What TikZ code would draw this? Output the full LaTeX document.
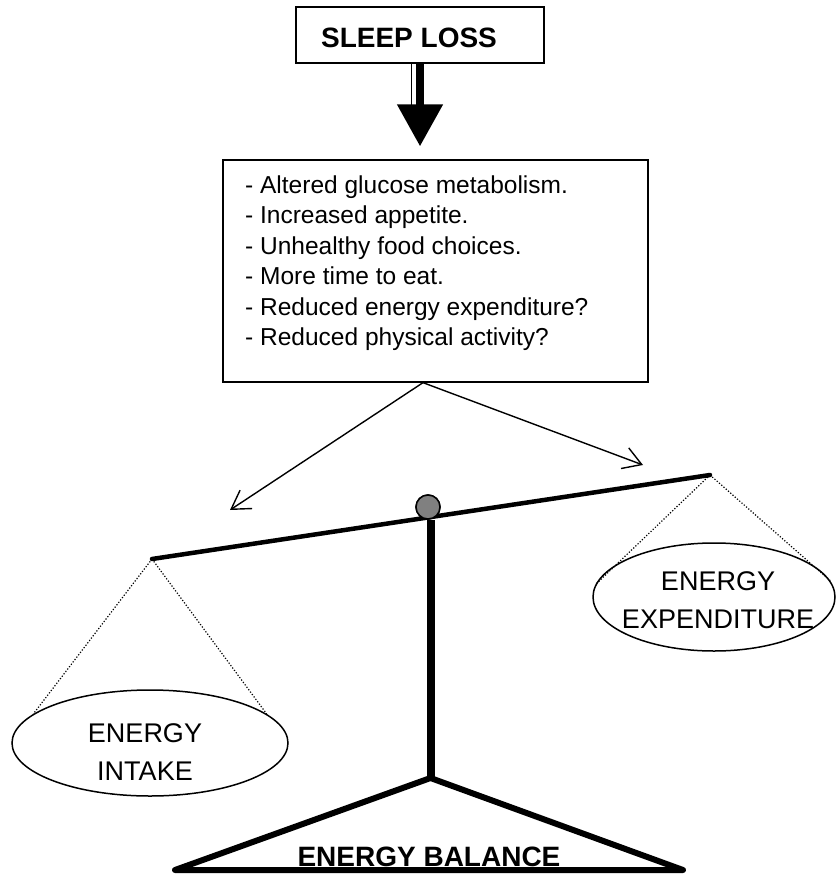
\documentclass[tikz,border=0pt]{standalone}
\usepackage{fontspec}
\setmainfont{Liberation Sans}
\usetikzlibrary{arrows.meta,shapes.geometric}
\tikzset{
  px/.style={x=1pt, y=-1pt},
  causebox/.style={draw, line width=2.4pt, minimum width=248pt, minimum height=56pt, inner sep=0pt},
  boldtxt/.style={font=\fontsize{28}{34}\selectfont\bfseries, inner sep=0pt, anchor=base},
  listbox/.style={draw, line width=1.3pt, minimum width=425pt, minimum height=222pt, inner sep=0pt},
  listtxt/.style={font=\fontsize{24.5}{30.4}\selectfont, align=left, inner sep=0pt, anchor=north west},
  bigarrow/.style={line width=8pt, -{Triangle[width=44pt,length=42pt]}},
  thinarrow/.style={line width=1.4pt, -{Straight Barb[length=18pt,width=22pt,line width=1.4pt]}},
  beam/.style={line width=4.5pt, line cap=round},
  post/.style={line width=8pt},
  stand/.style={line width=6pt, line join=round},
  pivot/.style={circle, draw, line width=1.5pt, fill=black!50, minimum size=24pt, inner sep=0pt},
  rope/.style={line width=1.2pt, dash pattern=on 1.2pt off 1.8pt},
  pan/.style={ellipse, draw, line width=1.5pt, inner sep=0pt},
  pantxt/.style={font=\fontsize{27}{38}\selectfont, align=center, inner sep=0pt, anchor=north},
}

\begin{document}
\begin{tikzpicture}[px]
  % canvas in pixels, y grows downwards
  \path[fill=white] (0,0) rectangle (838,874);

  % --- cause and its effects ---
  \node[causebox] (sleep) at (420,35) {};
  \node[boldtxt] (sleeptxt) at (409,48) {SLEEP LOSS};
  \node[listbox] (list) at (435.5,271) {};
  \node[listtxt] (items) at (245,175.5) {- Altered glucose metabolism.\\
    - Increased appetite.\\
    - Unhealthy food choices.\\
    - More time to eat.\\
    - Reduced energy expenditure?\\
    - Reduced physical activity?};

  \draw[line width=1pt] ([xshift=-8.5pt]sleep.south) -- ++(0,42);
  \draw[bigarrow] (sleep.south) -- ([yshift=13pt]sleep.south |- list.north);

  % --- the scale ---
  \coordinate (fork) at ([xshift=-12.5pt]list.south);
  \coordinate (toIntake) at (230,510);
  \coordinate (toExpend) at (643,465);
  \coordinate (beamL) at (152,559);
  \coordinate (beamR) at (710,475);
  \coordinate (apex) at (430.5,778);
  \coordinate (footL) at (175,870);
  \coordinate (footR) at (683,870);

  \node[pan, minimum width=276pt, minimum height=106pt] (intake) at (150,743) {};
  \node[pan, minimum width=242pt, minimum height=108pt] (expend) at (714,597) {};
  \node[pantxt] (intaketxt) at (145,723.5) {ENERGY\\INTAKE};
  \node[pantxt] (expendtxt) at (718,571.5) {ENERGY\\EXPENDITURE};

  \draw[rope] (beamL) -- (intake.166);
  \draw[rope] (beamL) -- (intake.14);
  \draw[rope] (beamR) -- (expend.174);
  \draw[rope] (beamR) -- (expend.8);

  \draw[thinarrow] (fork) -- (toIntake);
  \draw[thinarrow] (fork) -- (toExpend);

  \draw[beam] (beamL) -- (beamR);
  \node[pivot] (pivot) at (428,507) {};
  \draw[post] (apex) -- (apex |- pivot.south);
  \node[pivot] at (pivot) {};

  \draw[stand] (footL) -- (apex) -- (footR) -- cycle;
  \node[boldtxt] (balance) at (429,866) {ENERGY BALANCE};
\end{tikzpicture}
\end{document}
